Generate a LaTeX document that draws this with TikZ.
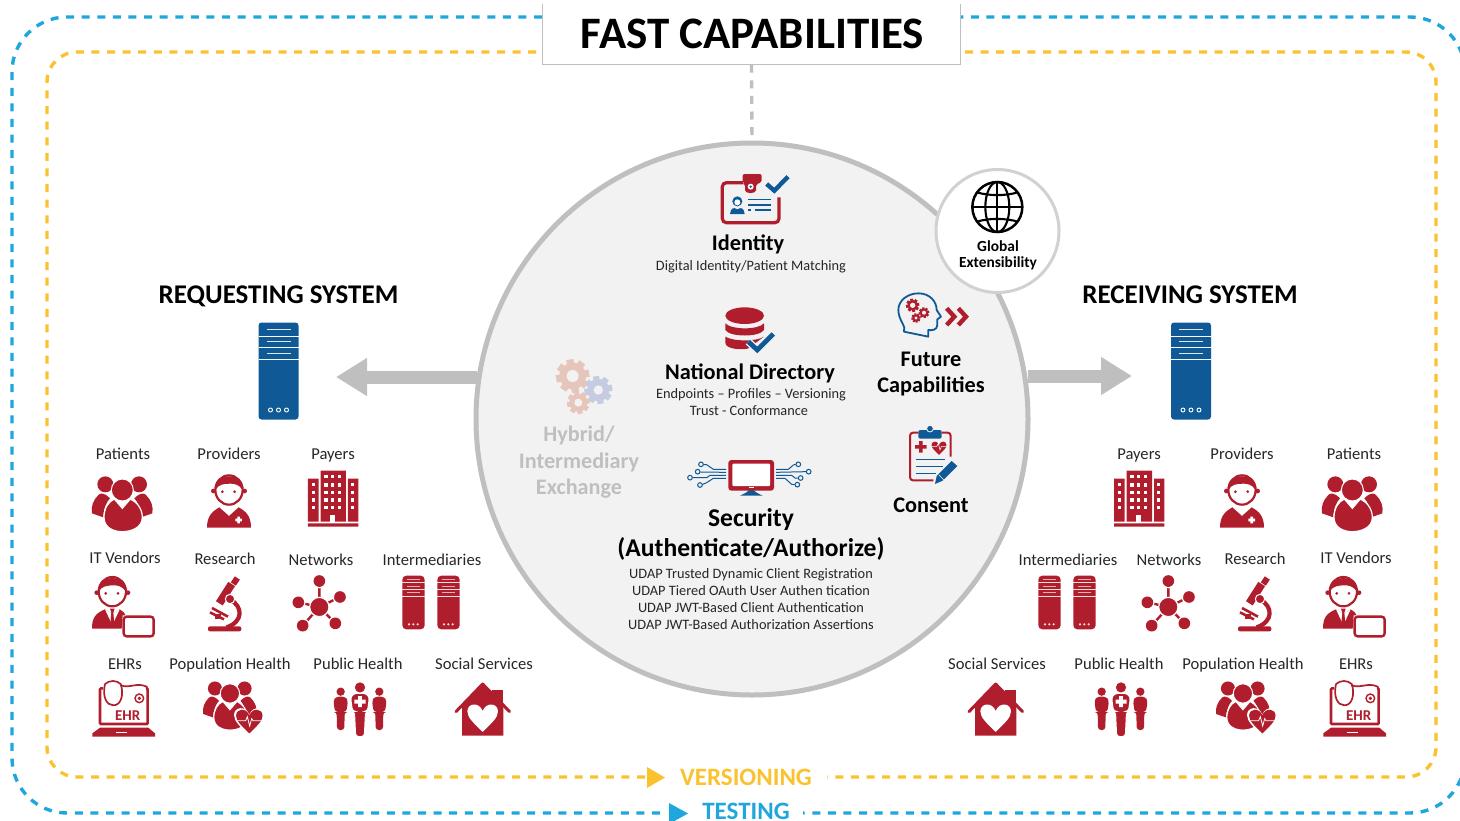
\documentclass[tikz,border=0pt]{standalone}
\usepackage{fontspec}
\setmainfont{Carlito}
\usetikzlibrary{arrows.meta}
\definecolor{cred}{HTML}{B01E2D}
\definecolor{cblue}{HTML}{0F5A96}
\definecolor{cyel}{HTML}{F9C22E}
\definecolor{ccyan}{HTML}{1FA6DC}
\definecolor{cgrey}{HTML}{BFBFBF}
\definecolor{chub}{HTML}{F2F2F2}
\definecolor{csalm}{HTML}{E6C6BA}
\definecolor{cperi}{HTML}{C5CCE2}
\newcommand{\gearat}[6]{% x y r hole colour holecolour
  \begin{scope}[shift={(#1,#2)}]
    \foreach \a in {0,45,...,135}{\fill[#5,rotate=\a+10] (-#3,-#3*.22) rectangle (#3,#3*.22);}
    \fill[#5] (0,0) circle[radius=#3*.8];
    \fill[#6] (0,0) circle[radius=#4];
  \end{scope}}
\newcommand{\heartat}[4]{% x y size colour
  \fill[#4,shift={(#1,#2)},scale=#3] (0,.55) .. controls (-.35,.2) and (-.62,-.02) .. (-.62,-.28) .. controls (-.62,-.62) and (-.15,-.68) .. (0,-.3) .. controls (.15,-.68) and (.62,-.62) .. (.62,-.28) .. controls (.62,-.02) and (.35,.2) .. (0,.55) -- cycle;}
\newcommand{\peoplepart}{%
  \fill[cred] (76,163) circle[radius=24] (177,163) circle[radius=24];
  \fill[cred] (90,205) .. controls (70,185) and (60,190) .. (55,195) .. controls (40,210) and (32,230) .. (36,250) -- (70,262) .. controls (70,235) and (80,215) .. (90,205) -- cycle;
  \fill[cred] (163,205) .. controls (183,185) and (193,190) .. (198,195) .. controls (213,210) and (221,230) .. (217,250) -- (183,262) .. controls (183,235) and (173,215) .. (163,205) -- cycle;
  \filldraw[cred,draw=white,line width=1.2pt] (72,262) .. controls (72,235) and (85,215) .. (103,207) -- (127,235) -- (151,207) .. controls (169,215) and (187,235) .. (187,262) .. controls (187,295) and (150,305) .. (127,305) .. controls (104,305) and (72,295) .. (72,262) -- cycle;
  \filldraw[cred,draw=white,line width=1pt] (127,180) circle[radius=33];}
\newcommand{\facepart}[2]{% centre x, y of the head
  \begin{scope}[shift={(#1,#2)}]
    \fill[cred] (-47,8) circle[radius=7] (47,8) circle[radius=7];
    \filldraw[fill=white,draw=cred,line width=2.2pt] (0,5) ellipse[x radius=41,y radius=44];
    \fill[cred] (-41,5) .. controls (-41,-50) and (41,-50) .. (41,5) .. controls (30,-12) and (15,-14) .. (5,-14) .. controls (-15,-14) and (-32,-12) .. (-41,5) -- cycle;
    \fill[cred] (-20,10) circle[radius=4.5] (17,10) circle[radius=4.5];
  \end{scope}}
\newcommand{\personat}[3]{% x y scale
  \begin{scope}[shift={(#1,#2)},scale=#3]
    \fill[cred] (0,-15) circle[radius=12.5];
    \fill[cred,rounded corners=3pt] (-22,12) -- (-14,0) -- (14,0) -- (22,12) -- (17,46) -- (12,46) -- (11,100) -- (-11,100) -- (-12,46) -- (-17,46) -- cycle;
  \end{scope}}
\tikzset{
  lbl/.style={anchor=base,inner sep=0,font=\fontsize{16.6}{18}\selectfont,text=black!85},
  hd/.style={anchor=base,inner sep=0,font=\fontsize{22.3}{25}\selectfont\bfseries},
  sub/.style={anchor=base,inner sep=0,font=\fontsize{14.35}{16}\selectfont,text=black!85},
  sysh/.style={anchor=base,inner sep=0,font=\fontsize{27}{28}\selectfont\bfseries},
  hyb/.style={anchor=base,inner sep=0,text=cgrey,font=\fontsize{22.2}{24}\selectfont\bfseries},
  glb/.style={anchor=base,inner sep=0,font=\fontsize{15.4}{16}\selectfont\bfseries},
  secf/.style={anchor=base,inner sep=0,font=\fontsize{25.6}{27}\selectfont\bfseries},
  bott/.style={anchor=base,inner sep=0,font=\fontsize{25}{25}\selectfont\bfseries},
  border/.style={line width=3.4pt,dash pattern=on 8pt off 7.6pt},
  bigarrow/.style={cgrey,line width=13pt,-{Triangle[length=31pt,width=36pt]}},
  patients/.pic={\peoplepart},
  provider/.pic={
    \facepart{447}{175}
    \fill[cred] (381,293) .. controls (381,260) and (395,245) .. (418,232) -- (447,258) -- (476,232) .. controls (500,245) and (513,260) .. (513,293) -- cycle;
    \fill[white] (472,260) rectangle (480,280) (466,266) rectangle (486,274);},
  payer/.pic={
    \fill[cred] (722,122) rectangle (798,275) (684,146) rectangle (716,275) (804,146) rectangle (835,275) (684,280) rectangle (835,290);
    \foreach \yy in {140,165,187,210,233}{\foreach \xx in {738,758,778}{\fill[white] (\xx-5,\yy-5) rectangle (\xx+5,\yy+5);}}
    \foreach \yy in {163,187,210,233}{\foreach \xx in {700,818}{\fill[white] (\xx-5,\yy-5) rectangle (\xx+5,\yy+5);}}
    \fill[white] (751,255) rectangle (765,275);},
  itvendor/.pic={
    \facepart{97}{480}
    \fill[cred] (36,596) .. controls (36,565) and (45,550) .. (75,538) -- (97,552) -- (119,538) .. controls (130,545) and (135,550) .. (137,556) -- (128,556) -- (125,596) -- cycle;
    \fill[white] (75,538) -- (97,585) -- (119,538) -- (97,552) -- cycle;
    \fill[cred] (90,536) -- (104,536) -- (100,548) -- (104,590) -- (90,590) -- (94,548) -- cycle;
    \filldraw[fill=white,draw=cred,line width=2.4pt,rounded corners=3pt] (131,560) rectangle (221,619);},
  research/.pic={
    \fill[cred,rounded corners=2pt] (384,589) rectangle (484,604);
    \draw[cred,line width=4.2pt] (450,508) .. controls (490,530) and (490,575) .. (440,592);
    \draw[cred,line width=6pt] (472,444) -- (460,462);
    \draw[cred,line width=8pt] (455,462) -- (418,520);
    \filldraw[fill=cred,draw=white,line width=1pt] (450,507) circle[radius=14];
    \draw[cred,line width=2.6pt] (396,534) -- (444,560);
    \draw[cred,line width=2.6pt] (390,547) -- (432,568);
    \fill[cred] (405,552) rectangle (422,568);},
  network/.pic={
    \draw[cred,line width=2.4pt] (718,531) -- (718,453) (718,531) -- (780,501) (718,531) -- (766,580) (718,531) -- (668,587) (718,531) -- (655,517);
    \foreach \pa/\pb in {718/453,780/501,766/580,668/587,655/517}{\draw[white,line width=1.2pt] (\pa,\pb) circle[radius=20];\fill[cred] (\pa,\pb) circle[radius=17.5];}
    \filldraw[fill=cred,draw=white,line width=1.2pt] (718,531) circle[radius=29];},
  ehr/.pic={
    \filldraw[fill=white,draw=cred,line width=2.6pt,rounded corners=1pt] (60,775) rectangle (203,882);
    \fill[cred] (60,893) -- (205,893) -- (225,910) -- (225,920) -- (37,920) -- (37,910) -- cycle;
    \fill[white] (108,906) rectangle (142,910);
    \fill[white] (68,762) rectangle (198,780);
    \draw[cred,line width=1.7pt] (75,762) .. controls (66,800) and (80,826) .. (100,826) .. controls (125,826) and (132,790) .. (122,762) .. controls (110,750) and (88,750) .. (75,762);
    \draw[cred,line width=1.7pt] (122,766) .. controls (150,776) and (170,756) .. (200,770) -- (200,778);
    \draw[cred,line width=1.4pt] (178,805) circle[radius=13];
    \fill[cred] (178,805) circle[radius=5.5];
    \node[inner sep=0,text=cred,font=\fontsize{15}{15}\selectfont\bfseries] (-t) at (143,856) {EHR};},
  pophealth/.pic={
    \begin{scope}[shift={(338,632)},scale=.88]\peoplepart\end{scope}
    \heartat{508}{876}{74}{white}
    \heartat{508}{875}{64}{cred}
    \draw[white,line width=.8pt] (472,872) -- (497,872) -- (502,860) -- (509,888) -- (515,866) -- (519,872) -- (546,872);},
  pubhealth/.pic={
    \personat{782}{800}{1}
    \personat{898}{800}{1}
    \begin{scope}[shift={(840,790)},scale=1.18]
      \fill[cred] (0,-15) circle[radius=13];
      \filldraw[fill=cred,draw=white,line width=1pt,rounded corners=3pt] (-24,10) -- (-15,0) -- (15,0) -- (24,10) -- (19,46) -- (14,46) -- (11,110) -- (-11,110) -- (-14,46) -- (-19,46) -- cycle;
      \fill[white] (-5,7) rectangle (5,35) (-14,16) rectangle (14,26);
    \end{scope}},
  intermed/.pic={
    \foreach \xa in {127,232}{
      \fill[cred,rounded corners=4pt] (\xa,107) rectangle (\xa+67,268);
      \foreach \yy in {127,149,169}{\draw[white!85!cred,line width=1pt] (\xa,\yy) -- (\xa+67,\yy);}
      \foreach \yy in {118,138,158}{\draw[white!65!cred,line width=1pt] (\xa+14,\yy) -- (\xa+53,\yy);}
      \foreach \dd in {20,33,46}{\fill[white!85!cred] (\xa+\dd,253) circle[radius=3.6];}
    }},
  social/.pic={
    \fill[cred] (395,450) rectangle (430,500);
    \fill[cred] (306,587) -- (306,495) -- (368,432) -- (430,495) -- (430,587) -- cycle;
    \draw[cred,line width=3pt,line cap=round,line join=round] (288,515) -- (368,432) -- (449,515);
    \heartat{368}{535}{74}{white}},
  server/.pic={
    \fill[cblue,rounded corners=3pt] (0,0) rectangle (40,97);
    \foreach \yy in {14,25,36.5}{\draw[white,line width=.9pt] (0,\yy) -- (40,\yy);}
    \foreach \yy in {7,19,31}{\draw[white!85!cblue,line width=.9pt] (8,\yy) -- (32,\yy);}
    \foreach \xx in {12,20,28}{\draw[white,line width=.9pt] (\xx,87.5) circle[radius=2];}},
}
\begin{document}
\begin{tikzpicture}[x=1pt,y=-1pt]
\useasboundingbox (0,0) rectangle (1460,820);
\clip (0,0) rectangle (1460,820);
% dashed frames
\draw[border,ccyan,rounded corners=55pt] (660,813) -- (12,813) -- (12,17) -- (1465,17) -- (1465,813) -- (803,813);
\draw[border,cyel,rounded corners=30pt] (645,777) -- (47,777) -- (47,52) -- (1436,52) -- (1436,777) -- (827,777);
\fill[cyel] (647,767) -- (665,777.5) -- (647,788) -- cycle;
\fill[ccyan] (669,803) -- (688,813.5) -- (669,824) -- cycle;
\node[bott,text=cyel] (versioning) at (746,785.5) {VERSIONING};
\node[bott,text=ccyan] (testing) at (746,819.5) {TESTING};
% title
\node[fill=white,minimum width=417pt,minimum height=60pt,inner sep=0] (title) at (751.5,34.5) {};
\draw[cgrey,line width=.8pt] (title.north west) -- (title.south west) -- (title.south east) -- (title.north east);
\node[anchor=base,inner sep=0,font=\fontsize{45}{46}\selectfont\bfseries] (titletext) at (752.5,48) {FAST CAPABILITIES};
% hub
\node[circle,fill=chub,draw=cgrey,line width=5pt,minimum size=552pt,inner sep=0] (hub) at (752,419) {};
\draw[cgrey,line width=3.4pt,dash pattern=on 8pt off 7.6pt] (title.south) -- (hub.north);
% big arrows
\coordinate (reqtip) at (336,377);
\coordinate (rectip) at (1132,376);
\draw[bigarrow] (hub.171.3 |- reqtip) -- (reqtip);
\draw[bigarrow] (hub.8.9 |- rectip) -- (rectip);
% global
\node[circle,fill=white,draw=black!18,line width=3pt,minimum size=123pt,inner sep=0] (global) at (997.5,231) {};
\begin{scope}[shift={(680,160)},scale=1/3]
  \draw[black,line width=2.5pt] (952,141) circle[radius=75];
  \draw[black,line width=2.1pt] (952,66) -- (952,216) (877,141) -- (1027,141);
  \draw[black,line width=2.1pt] (952,141) ellipse[x radius=36,y radius=75];
  \draw[black,line width=2.1pt] (891,97) .. controls (925,108) and (979,108) .. (1013,97);
  \draw[black,line width=2.1pt] (891,185) .. controls (925,174) and (979,174) .. (1013,185);
\end{scope}
\node[glb] (gl1) at (998,251.5) {Global};
\node[glb] (gl2) at (998,267) {Extensibility};
% identity
\begin{scope}[shift={(680,160)},scale=1/3]
  \draw[cred,line width=3.2pt,rounded corners=4pt] (190,68) -- (127,68) -- (127,188) -- (297,188) -- (297,112);
  \fill[cred,rounded corners=2pt] (188,42) -- (245,42) -- (245,68) -- (228,72) -- (228,85) .. controls (228,102) and (195,102) .. (195,85) -- (195,72) -- (188,68) -- cycle;
  \fill[white] (212,80) circle[radius=9];
  \fill[cblue] (212,80) circle[radius=4];
  \draw[cblue,line width=4.4pt] (260,72) -- (283,92) -- (324,50);
  \fill[cblue] (172,124) circle[radius=15];
  \fill[white] (172,127) circle[radius=9];
  \fill[cblue] (150,162) .. controls (152,145) and (160,140) .. (172,148) .. controls (184,140) and (192,145) .. (194,162) -- cycle;
  \draw[cblue,line width=1.5pt] (205,118) -- (272,118) (205,135) -- (272,135) (205,150) -- (214,150) (224,150) -- (272,150);
\end{scope}
\node[hd] (ident) at (748,250) {Identity};
\node[sub] (identsub) at (751,270.5) {Digital Identity/Patient Matching};
% directory
\begin{scope}[shift={(680,160)},scale=1/3]
  \fill[cred] (136,530) -- (136,548) .. controls (136,570) and (195,570) .. (205,565) -- (252,530) .. controls (230,545) and (160,545) .. (136,530) -- cycle;
  \fill[cred] (136,490) -- (136,510) .. controls (150,532) and (238,532) .. (252,510) -- (252,490) .. controls (235,510) and (155,510) .. (136,490) -- cycle;
  \fill[cred] (194,467) ellipse[x radius=58,y radius=25];
  \draw[chub,line width=7.5pt] (205,545) -- (232,570) -- (280,522);
  \draw[cblue,line width=4.8pt] (205,545) -- (232,570) -- (280,522);
\end{scope}
\node[hd] (natdir) at (750,379) {National Directory};
\node[sub] (nd1) at (751,398) {Endpoints – Profiles – Versioning};
\node[sub] (nd2) at (749,415) {Trust - Conformance};
% future
\begin{scope}[shift={(680,160)},scale=1/3]
  \draw[cblue,line width=1.8pt,line join=round] (672,515) .. controls (680,500) and (655,480) .. (655,450) .. controls (655,420) and (685,400) .. (715,400) .. controls (750,400) and (770,425) .. (770,450) -- (783,470) -- (772,478) -- (772,495) .. controls (772,510) and (755,512) .. (745,510) -- (745,530) -- cycle;
  \gearat{698}{436}{20}{8}{cred}{chub}
  \gearat{732}{458}{16}{6}{cred}{chub}
  \gearat{708}{474}{14}{5}{cred}{chub}
  \draw[cred,line width=4.4pt] (800,445) -- (823,470) -- (800,495) (835,445) -- (858,470) -- (835,495);
\end{scope}
\node[hd] (fut1) at (931,366) {Future};
\node[hd] (fut2) at (931,392.5) {Capabilities};
% consent
\begin{scope}[shift={(880,280)},scale=1/3]
  \draw[cred,line width=2pt,rounded corners=3pt] (115,458) -- (90,458) -- (90,601) -- (160,601);
  \draw[cred,line width=2pt,rounded corners=3pt] (185,458) -- (212,458) -- (212,530);
  \fill[cblue,rounded corners=2pt] (115,450) rectangle (185,476);
  \filldraw[fill=cblue,draw=chub,line width=.8pt] (150,446) circle[radius=10];
  \fill[cred] (117,483) rectangle (128,518) (105,495) rectangle (140,506);
  \heartat{177}{505}{36}{cred}
  \draw[white,line width=.5pt] (156,500) -- (170,500) -- (175,490) -- (180,510) -- (184,500) -- (198,500);
  \draw[cblue,line width=1.5pt] (107,538) -- (195,538) (107,560) -- (188,560) (107,580) -- (168,580);
  \fill[cblue] (165,612) -- (170,588) -- (215,543) -- (232,558) -- (188,602) -- cycle;
  \draw[chub,line width=.6pt] (176,584) -- (192,600);
\end{scope}
\node[hd] (consent) at (931,512) {Consent};
% hybrid
\begin{scope}[shift={(510,350)},scale=1/3]
  \gearat{188}{78}{50}{18}{csalm}{chub}
  \gearat{265}{120}{42}{14}{cperi}{chub}
  \gearat{205}{158}{34}{12}{csalm}{chub}
\end{scope}
\node[hyb] (hy1) at (579,441) {Hybrid/};
\node[hyb] (hy2) at (579,468) {Intermediary};
\node[hyb] (hy3) at (579,494.5) {Exchange};
% security
\begin{scope}[shift={(510,350)},scale=1/3]
  \fill[cblue] (690,437) .. controls (705,430) and (715,425) .. (718,418) -- (730,418) .. controls (733,425) and (743,430) .. (758,437) -- cycle;
  \fill[cred,rounded corners=3pt] (655,330) rectangle (792,422);
  \fill[white,rounded corners=1pt] (667,341) rectangle (780,408);
  \fill[white] (717,411) rectangle (731,415);
  \draw[cblue,line width=1pt] (648,358) -- (610,358) -- (590,344) -- (581,344);
  \draw[cblue,line width=1pt] (648,367) -- (571,366);
  \draw[cblue,line width=1pt] (648,376) -- (600,376) -- (590,383) -- (548,383);
  \draw[cblue,line width=1pt] (648,385) -- (610,385) -- (590,398) -- (578,403);
  \draw[cblue,line width=1pt] (798,358) -- (835,358) -- (850,345) -- (857,343);
  \draw[cblue,line width=1pt] (798,367) -- (888,365);
  \draw[cblue,line width=1pt] (798,376) -- (845,376) -- (855,384) -- (864,384);
  \draw[cblue,line width=1pt] (798,385) -- (825,385) -- (845,403) -- (854,404);
  \foreach \pa/\pb in {573/343,563/365,540/383,570/405,865/343,896/365,872/384,862/404}{\draw[cblue,line width=1pt] (\pa,\pb) circle[radius=7];}
\end{scope}
\node[secf] (sec1) at (751,526) {Security};
\node[secf] (sec2) at (751,556) {(Authenticate/Authorize)};
\node[sub] (u1) at (751,578) {UDAP Trusted Dynamic Client Registration};
\node[sub] (u2) at (751,595) {UDAP Tiered OAuth User Authen tication};
\node[sub] (u3) at (751,612) {UDAP JWT-Based Client Authentication};
\node[sub] (u4) at (751,629) {UDAP JWT-Based Authorization Assertions};
% system headings
\node[sysh] (reqh) at (278.5,303) {REQUESTING SYSTEM};
\node[sysh] (rech) at (1190,303) {RECEIVING SYSTEM};
\pic (srvA) at (258.5,322.5) {server};
\pic (srvB) at (1171,322.5) {server};
% left labels
\node[lbl] (l1) at (123,459.5) {Patients};
\node[lbl] (l2) at (229,459.5) {Providers};
\node[lbl] (l3) at (333,459.5) {Payers};
\node[lbl] (l4) at (125,563) {IT Vendors};
\node[lbl] (l5) at (225,564) {Research};
\node[lbl] (l6) at (321,565.5) {Networks};
\node[lbl] (l7) at (432,565) {Intermediaries};
\node[lbl] (l8) at (125,669.5) {EHRs};
\node[lbl] (l9) at (230,669.5) {Population Health};
\node[lbl] (l10) at (358,669.5) {Public Health};
\node[lbl] (l11) at (484,669.5) {Social Services};
% right labels
\node[lbl] (r1) at (1139,459) {Payers};
\node[lbl] (r2) at (1242,459) {Providers};
\node[lbl] (r3) at (1354,459.5) {Patients};
\node[lbl] (r4) at (1068,565) {Intermediaries};
\node[lbl] (r5) at (1169,565.5) {Networks};
\node[lbl] (r6) at (1255,564) {Research};
\node[lbl] (r7) at (1356,563) {IT Vendors};
\node[lbl] (r8) at (997,669.5) {Social Services};
\node[lbl] (r9) at (1119,669.5) {Public Health};
\node[lbl] (r10) at (1243,669.5) {Population Health};
\node[lbl] (r11) at (1356,669.5) {EHRs};
% left icons
\pic[scale=1/3] (a1) at (80,430) {patients};
\pic[scale=1/3] (a2) at (80,430) {provider};
\pic[scale=1/3] (a3) at (80,430) {payer};
\pic[scale=1/3] (a4) at (80,430) {itvendor};
\pic[scale=1/3] (a5) at (80,430) {research};
\pic[scale=1/3] (a6) at (80,430) {network};
\pic[scale=1/3] (a7) at (360,540) {intermed};
\pic[scale=1/3] (a8) at (80,430) {ehr};
\pic[scale=1/3] (a9) at (80,430) {pophealth};
\pic[scale=1/3] (a10) at (80,430) {pubhealth};
\pic[scale=1/3] (a11) at (360,540) {social};
% right icons
\pic[scale=1/3] (b1) at (1310,430) {patients};
\pic[scale=1/3] (b2) at (1093,430) {provider};
\pic[scale=1/3] (b3) at (886,430) {payer};
\pic[scale=1/3] (b4) at (1311,430) {itvendor};
\pic[scale=1/3] (b5) at (1110,430) {research};
\pic[scale=1/3] (b6) at (929,430) {network};
\pic[scale=1/3] (b7) at (996,540) {intermed};
\pic[scale=1/3] (b8) at (1311,430) {ehr};
\pic[scale=1/3] (b9) at (1093,430) {pophealth};
\pic[scale=1/3] (b10) at (841,430) {pubhealth};
\pic[scale=1/3] (b11) at (873,540) {social};
\end{tikzpicture}
\end{document}
